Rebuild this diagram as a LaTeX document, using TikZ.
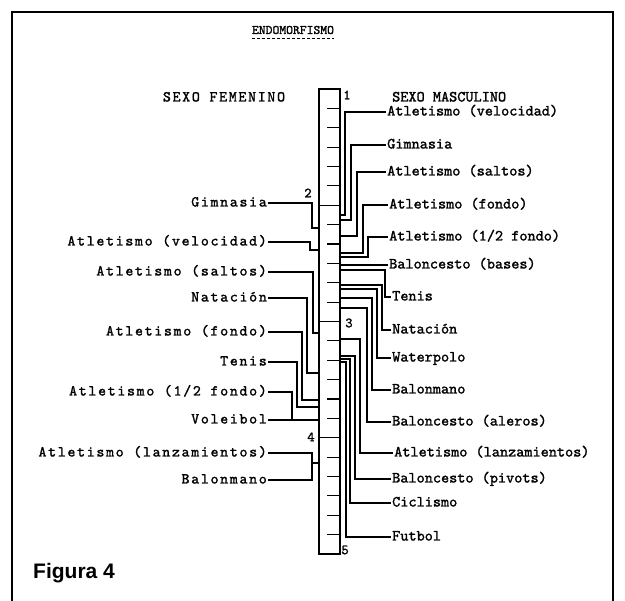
\documentclass[tikz,border=0pt]{standalone}
\usepackage{fontspec}
\newfontfamily\figfont{Liberation Sans}
\newfontfamily\mascfont{lmmono10-regular.otf}[FakeBold=1.5]
\newfontfamily\femfont{lmmono10-regular.otf}[FakeBold=1.5, LetterSpace=11]

\tikzset{
    masc/.style={
           font=\fontsize{15.5}{16}\selectfont\mascfont,
           anchor=west, inner sep=1pt,
           text height=9pt, text depth=2pt,
           },
    fem/.style={
           font=\fontsize{15.2}{16}\selectfont\femfont,
           anchor=east, inner sep=1pt,
           text height=9pt, text depth=2pt,
           },
    val/.style={
           font=\fontsize{14}{15}\selectfont\mascfont,
           inner sep=0pt,
           },
    link/.style={line width=1.1pt},
}

\begin{document}
\begin{tikzpicture}[x=1pt,y=-1pt]
\useasboundingbox (0,0) rectangle (625,601);

       \draw[line width=1.2pt] (12,601) -- (12,12) -- (613,12) -- (613,601);

       \node[val, font=\fontsize{13}{14}\selectfont\mascfont] (TITLE) at (293,30) {ENDOMORFISMO};
       \draw[densely dashed, line width=0.6pt] ([yshift=-4pt]TITLE.south west) -- ([yshift=-4pt]TITLE.south east);

       \node[fem, anchor=center] (FEM) at (224,98) {SEXO FEMENINO};
       \node[masc] (MASC) at (391,98) {SEXO MASCULINO};

       % the scale
       \node[draw, line width=1.1pt, outer sep=0pt, inner sep=0pt,
             minimum width=21pt, minimum height=465pt, anchor=north west] (BAR) at (319,89) {};
       \foreach \k in {1,...,23}
              \draw[link] ([xshift=-13pt,yshift=-\k*19.375pt]BAR.north east) -- ([yshift=-\k*19.375pt]BAR.north east);
       \foreach \k in {6,12,18}
              \draw[link] ([yshift=-\k*19.375pt]BAR.north west) -- ([yshift=-\k*19.375pt]BAR.north east);

       \node[val] (V1) at (347,95) {1};
       \node[val] (V2) at (308,193) {2};
       \node[val] (V3) at (349,323) {3};
       \node[val] (V4) at (311,437) {4};
       \node[val] (V5) at (345,550) {5};

       % sexo masculino
       \node[masc] (MVELOCIDAD) at (386,112) {Atletismo (velocidad)};
       \node[masc] (MGIMNASIA) at (386,145) {Gimnasia};
       \node[masc] (MSALTOS) at (386,172) {Atletismo (saltos)};
       \node[masc] (MFONDO) at (388,205) {Atletismo (fondo)};
       \node[masc] (MMEDIOFONDO) at (388,237) {Atletismo (1/2 fondo)};
       \node[masc] (MBASES) at (388,265) {Baloncesto (bases)};
       \node[masc] (MTENIS) at (391,297) {Tenis};
       \node[masc] (MNATACION) at (391,330) {Natación};
       \node[masc] (MWATERPOLO) at (391,358) {Waterpolo};
       \node[masc] (MBALONMANO) at (391,390) {Balonmano};
       \node[masc] (MALEROS) at (391,422) {Baloncesto (aleros)};
       \node[masc] (MLANZAMIENTOS) at (393,453) {Atletismo (lanzamientos)};
       \node[masc] (MPIVOTS) at (391,479) {Baloncesto (pivots)};
       \node[masc] (MCICLISMO) at (391,503) {Ciclismo};
       \node[masc] (MFUTBOL) at (391,537) {Futbol};

       \draw[link] (MVELOCIDAD.west) -| (345,215) -- (BAR.east |- 0,215);
       \draw[link] (MGIMNASIA.west) -| (351,220) -- (BAR.east |- 0,220);
       \draw[link] (MSALTOS.west) -| (357,236) -- (BAR.east |- 0,236);
       \draw[link] (MFONDO.west) -| (363,253) -- (BAR.east |- 0,253);
       \draw[link] (MMEDIOFONDO.west) -| (368,257) -- (BAR.east |- 0,257);
       \draw[link] (MBASES.west) -- (BAR.east |- MBASES.west);
       \draw[link] (MTENIS.west) -| (385,270) -- (BAR.east |- 0,270);
       \draw[link] (MNATACION.west) -| (382,285) -- (BAR.east |- 0,285);
       \draw[link] (MWATERPOLO.west) -| (377,289) -- (BAR.east |- 0,289);
       \draw[link] (MBALONMANO.west) -| (372,298) -- (BAR.east |- 0,298);
       \draw[link] (MALEROS.west) -| (367,308) -- (BAR.east |- 0,308);
       \draw[link] (MLANZAMIENTOS.west) -| (360,339) -- (BAR.east |- 0,339);
       \draw[link] (MPIVOTS.west) -| (355,356) -- (BAR.east |- 0,356);
       \draw[link] (MCICLISMO.west) -| (350,359) -- (BAR.east |- 0,359);
       \draw[link] (MFUTBOL.west) -| (346,362) -- (BAR.east |- 0,362);

       % sexo femenino
       \node[fem] (FGIMNASIA) at (268,203) {Gimnasia};
       \node[fem] (FVELOCIDAD) at (268,242) {Atletismo (velocidad)};
       \node[fem] (FSALTOS) at (268,272) {Atletismo (saltos)};
       \node[fem] (FNATACION) at (268,298) {Natación};
       \node[fem] (FFONDO) at (268,332) {Atletismo (fondo)};
       \node[fem] (FTENIS) at (268,362) {Tenis};
       \node[fem] (FMEDIOFONDO) at (268,392) {Atletismo (1/2 fondo)};
       \node[fem] (FVOLEIBOL) at (268,420) {Voleibol};
       \node[fem] (FLANZAMIENTOS) at (268,453) {Atletismo (lanzamientos)};
       \node[fem] (FBALONMANO) at (268,480) {Balonmano};

       \draw[link] (FGIMNASIA.east) -| (312,228) -- (BAR.west |- 0,228);
       \draw[link] (FVELOCIDAD.east) -| (310,250) -- (BAR.west |- 0,250);
       \draw[link] (FSALTOS.east) -| (313,333) -- (BAR.west |- 0,333);
       \draw[link] (FNATACION.east) -| (307,373) -- (BAR.west |- 0,373);
       \draw[link] (FFONDO.east) -| (302,400) -- (BAR.west |- 0,400);
       \draw[link] (FTENIS.east) -| (297,407) -- (BAR.west |- 0,407);
       \draw[link] (FMEDIOFONDO.east) -| (292,420);
       \draw[link] (FVOLEIBOL.east) -- (BAR.west |- FVOLEIBOL.east);
       \draw[link] (FLANZAMIENTOS.east) -| (312,463) -- (BAR.west |- 0,463);
       \draw[link] (FBALONMANO.east) -| (312,463);

       \node[font=\figfont\fontsize{21}{22}\selectfont\bfseries, anchor=west, inner sep=0pt] (FIGURA) at (33,573) {Figura 4};

\end{tikzpicture}
\end{document}
